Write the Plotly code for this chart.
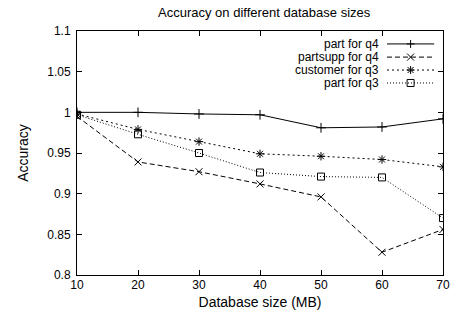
import plotly.graph_objects as go

sizes = [10, 20, 30, 40, 50, 60, 70]
part_q4 = [1.000, 1.000, 0.998, 0.997, 0.981, 0.982, 0.992]
partsupp_q4 = [0.995, 0.939, 0.927, 0.912, 0.896, 0.828, 0.856]
customer_q3 = [0.998, 0.979, 0.964, 0.949, 0.946, 0.942, 0.933]
part_q3 = [0.997, 0.973, 0.950, 0.926, 0.921, 0.920, 0.870]

series_names = ["part for q4", "partsupp for q4", "customer for q3", "part for q3"]
x_ticks = [10, 20, 30, 40, 50, 60, 70]
y_ticks = [0.8, 0.85, 0.9, 0.95, 1.0, 1.05, 1.1]
y_tick_labels = ["0.8", "0.85", "0.9", "0.95", "1", "1.05", "1.1"]

values = [part_q4, partsupp_q4, customer_q3, part_q3]
dashes = ["solid", "5px,3px", "2px,3px", "1px,2px"]
symbols = ["cross-thin-open", "x-thin-open", "asterisk-open", "square-open"]
# pixel paths for the key glyphs (gnuplot-style key with sample on the right)
key_paths = [
    "M-4,0 L4,0 M0,-4 L0,4",
    "M-3.5,-3.5 L3.5,3.5 M-3.5,3.5 L3.5,-3.5",
    "M-4,0 L4,0 M0,-4 L0,4 M-3,-3 L3,3 M-3,3 L3,-3",
    "M-3.5,-3.5 L3.5,-3.5 L3.5,3.5 L-3.5,3.5 Z",
]

font = "Liberation Sans, Arial, Helvetica, sans-serif"
fig = go.Figure()
for name, vals, dash, sym in zip(series_names, values, dashes, symbols):
    fig.add_trace(go.Scatter(
        x=sizes, y=vals, name=name, mode="lines+markers",
        line=dict(color="black", width=1, dash=dash),
        marker=dict(symbol=sym, size=7, color="black", line=dict(width=1, color="black")),
        showlegend=False,
    ))

# Key: text right-aligned, sample line + symbol to its right
key_rows = [0.947, 0.893, 0.840, 0.787]
annotations = []
shapes = []
for name, dash, path, ky in zip(series_names, dashes, key_paths, key_rows):
    annotations.append(dict(
        x=0.830, y=ky, xref="paper", yref="paper", text=name, showarrow=False,
        xanchor="right", yanchor="middle", font=dict(size=12, family=font),
    ))
    shapes.append(dict(
        type="line", xref="paper", yref="paper", x0=0.847, x1=0.976, y0=ky, y1=ky,
        line=dict(color="black", width=1, dash=dash),
    ))
    shapes.append(dict(
        type="path", xref="paper", yref="paper", xsizemode="pixel", ysizemode="pixel",
        xanchor=0.9115, yanchor=ky, path=path, fillcolor="rgba(0,0,0,0)",
        line=dict(color="black", width=1),
    ))

fig.update_layout(
    width=461, height=320,
    margin=dict(l=77, r=11, t=31, b=45),
    paper_bgcolor="white", plot_bgcolor="white",
    font=dict(family=font, size=12, color="black"),
    title=dict(text="Accuracy on different database sizes", x=0.573, xanchor="center",
               y=0.9625, yanchor="middle", font=dict(size=13)),
    showlegend=False,
    annotations=annotations,
    shapes=shapes,
)
fig.update_xaxes(
    range=[10, 70], tickvals=x_ticks, ticks="inside", ticklen=5, tickcolor="black",
    showline=True, linecolor="black", linewidth=1, mirror="allticks", showgrid=False,
    zeroline=False, ticklabelstandoff=-1, title=dict(text="Database size (MB)", standoff=5),
)
fig.update_yaxes(
    range=[0.8, 1.1], tickvals=y_ticks, ticktext=y_tick_labels, ticks="inside",
    ticklen=5, tickcolor="black", showline=True, linecolor="black", linewidth=1,
    mirror="allticks", showgrid=False, zeroline=False, ticklabelstandoff=3,
    title=dict(text="Accuracy", standoff=15),
)
fig.write_html("out.html")
